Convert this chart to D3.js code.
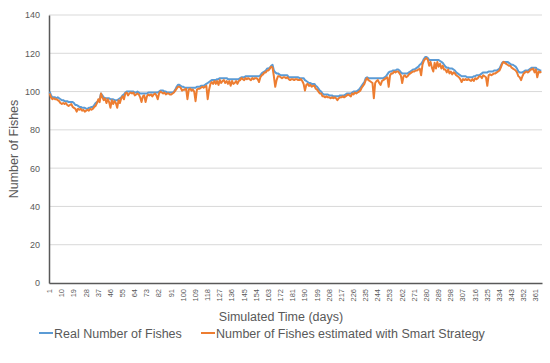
<!DOCTYPE html>
<html>
<head>
<meta charset="utf-8">
<script src="https://cdn.jsdelivr.net/npm/d3@7"></script>
<style>
  body { margin: 0; background: #fff; }
  svg text { font-family: "Liberation Sans", Arial, sans-serif; fill: #595959; }
</style>
</head>
<body>
<svg id="chart"></svg>
<script>
// real number of fishes, day 1..365
const realFishes = [
  100, 98, 97, 97, 97, 96.5, 97, 96.5, 96, 95.5,
  95.5, 95, 95, 95, 94.5, 94.5, 94.5, 94.5, 94, 93,
  93, 92.5, 92, 92, 91.5, 91.5, 91.5, 91, 91, 91.5,
  91.5, 92, 92, 93, 94, 94.5, 95, 96, 99, 98,
  97, 96.5, 96.5, 96.5, 96.5, 96, 96, 96, 95.5, 95.5,
  95.5, 96, 96.5, 97, 98, 98.5, 99.5, 100, 100, 100,
  100, 100, 100, 99.5, 99.5, 100, 99.5, 99, 99, 99,
  99, 99, 99, 99.5, 99.5, 99.5, 99.5, 99.5, 99.5, 99.5,
  99.5, 100, 100.5, 100.5, 100.5, 100, 100, 99.5, 99.5, 99.5,
  99.5, 99.5, 100, 101, 102.5, 103.5, 103.5, 103, 102.5, 102.5,
  102, 102, 102, 102, 102, 102, 102, 102, 102, 102.5,
  102.5, 102.5, 103, 103, 103, 103.5, 104, 104.5, 105, 105.5,
  106, 106, 106, 106, 106.5, 106.5, 107, 107, 107, 107,
  107, 107, 106.5, 106.5, 106.5, 106.5, 106.5, 106.5, 106.5, 106.5,
  106.5, 107, 107.5, 107.5, 107.5, 108, 108, 108, 108, 108,
  108, 108, 108, 108, 108, 108, 108.5, 109.5, 110, 110.5,
  111, 112, 112, 112.5, 113.5, 114, 111, 110, 109.5, 109.5,
  109, 108.5, 108.5, 108.5, 108.5, 108.5, 108.5, 107.5, 107.5, 107.5,
  107.5, 107.5, 107.5, 107.5, 107.5, 107, 107, 107, 107, 106,
  105.5, 105, 104.5, 104.5, 104, 104, 104, 103, 102.5, 101.5,
  100.5, 100, 99, 98.5, 98.5, 98.5, 98.5, 98, 98, 98,
  97.5, 97.5, 97.5, 97.5, 97.5, 98, 98, 98, 98, 98.5,
  99, 99, 99, 99, 99.5, 100, 100, 100, 100.5, 101,
  102, 103, 104, 105, 107, 107.5, 107, 107, 107, 107,
  107, 107, 107, 107, 107, 107, 107, 107, 107.5, 108,
  109, 110, 110.5, 110.5, 111, 111, 111, 111.5, 111.5, 111,
  110, 109.5, 109.5, 109.5, 109.5, 109.5, 110, 110.5, 111, 111.5,
  111.5, 112, 112.5, 113, 114, 114.5, 115.5, 117, 118, 118,
  117.5, 116.5, 116.5, 116.5, 116.5, 116.5, 116.5, 116.5, 116.5, 116,
  115.5, 115, 114, 113, 112.5, 112.5, 112, 112, 112, 111.5,
  111, 110, 109.5, 109, 108.5, 108, 108, 108, 108, 107.5,
  107.5, 107.5, 107.5, 107.5, 108, 108, 108.5, 108.5, 108.5, 109,
  109.5, 110, 110, 110, 110, 110.5, 110.5, 110.5, 110.5, 111,
  111, 111, 111.5, 112, 113.5, 115, 115.5, 115.5, 115.5, 115.5,
  115, 114.5, 114, 114, 113.5, 113, 112, 110.5, 110, 110,
  110, 110.5, 111, 111, 111, 111.5, 112, 112.5, 112.5, 112.5,
  112.5, 111.5, 111.5, 111, 111
];

// number of fishes estimated with smart strategy, day 1..365
const smartFishes = [
  99, 97, 96, 96.5, 96, 96, 95.5, 95, 94, 93.5,
  94, 93.5, 94, 93, 92.5, 93, 93.5, 92, 91.5, 91,
  89.5, 91, 90.5, 91, 90, 90.5, 89.5, 90, 90.5, 90,
  91, 90.5, 91, 92, 92.5, 94, 96, 94.5, 99, 97,
  95.5, 96.5, 94, 96, 94.5, 91.5, 95.5, 93.5, 95, 94,
  91.5, 95.5, 94, 96.5, 97.5, 96, 99, 99.5, 98, 99,
  99.5, 99, 99.5, 98, 98.5, 99, 98.5, 97, 94.5, 97.5,
  98, 94.5, 97.5, 98.5, 98, 98.5, 97.5, 98.5, 99, 98,
  96, 99, 100, 99.5, 99, 99.5, 98.5, 99, 99, 98.5,
  98.5, 99, 99.5, 100.5, 101.5, 102.5, 102.5, 102, 100.5, 101,
  101, 101.5, 96, 101, 101.5, 100.5, 101, 100, 95, 101,
  101.5, 101.5, 102, 102.5, 102, 102.5, 103, 96, 101, 104,
  105, 104, 105.5, 104, 105.5, 103.5, 106, 104.5, 105.5, 106,
  104.5, 105.5, 104, 105.5, 103, 105.5, 104, 104.5, 105.5, 104,
  105.5, 106, 107, 106.5, 106, 107, 106.5, 107, 106.5, 106,
  107, 106.5, 107, 107, 106.5, 105, 107.5, 108.5, 109, 110,
  110, 111, 111, 112, 113, 112.5, 108, 102.5, 106, 108,
  108, 107.5, 107, 107.5, 107.5, 107, 107.5, 106.5, 106, 106.5,
  106.5, 106, 106.5, 106.5, 106, 106, 106.5, 105.5, 104, 100.5,
  103.5, 104, 103, 103.5, 102.5, 103, 103, 101.5, 101, 100,
  99, 99, 97.5, 97.5, 97, 97.5, 97, 97, 96.5, 97,
  96.5, 97, 96.5, 95.5, 96.5, 97, 97, 97.5, 97, 97.5,
  98, 98.5, 98, 97.5, 99, 98.5, 99.5, 99, 99.5, 100,
  100.5, 102, 103, 104, 106, 107, 106, 105.5, 105, 104.5,
  96.5, 104.5, 105.5, 106, 104.5, 103.5, 105.5, 106, 106.5, 107,
  107.5, 102.5, 108.5, 109.5, 109.5, 110.5, 110, 110.5, 110.5, 109.5,
  108.5, 104.5, 108, 108.5, 107.5, 108, 109, 109.5, 110, 110.5,
  110.5, 111, 111, 111.5, 112, 108.5, 114, 116, 117, 117.5,
  116.5, 113.5, 115.5, 112.5, 110.5, 115, 112, 115.5, 113, 114.5,
  112, 113.5, 111.5, 111.5, 110, 111.5, 109.5, 110.5, 109, 110,
  109.5, 108.5, 108, 107.5, 106.5, 105, 106.5, 106, 106.5, 106,
  106.5, 106, 105.5, 106.5, 105.5, 107, 106.5, 107, 108, 108,
  107, 108.5, 108, 107.5, 103, 108.5, 109, 108.5, 109, 109.5,
  109.5, 110, 110.5, 111, 112.5, 114.5, 115.5, 115, 114.5, 114,
  113.5, 113.5, 112.5, 112, 111.5, 111, 110, 108, 107.5, 106,
  108, 109.5, 110, 110.5, 110, 110.5, 111.5, 111.5, 112, 110,
  111.5, 107.5, 110.5, 110, 110.5
];

const days = d3.range(1, realFishes.length + 1);
const yTicks = [0, 20, 40, 60, 80, 100, 120, 140];
const seriesNames = ["Real Number of Fishes", "Number of Fishes estimated with Smart Strategy"];
const seriesColors = ["#5B9BD5", "#ED7D31"];

const width = 550, height = 363;
const margin = { top: 15, right: 8, bottom: 80, left: 49 };
const plotW = width - margin.left - margin.right;
const plotH = height - margin.top - margin.bottom;

const svg = d3.select("#chart")
  .attr("width", width)
  .attr("height", height);

const chart = svg.append("g")
  .attr("transform", `translate(${margin.left},${margin.top})`);

const x = d3.scaleBand()
  .domain(days)
  .range([0, plotW]);

const y = d3.scaleLinear()
  .domain([0, 140])
  .range([plotH, 0]);

// gridlines
chart.append("g")
  .selectAll("line")
  .data(yTicks.filter(t => t > 0))
  .join("line")
    .attr("x1", 0)
    .attr("x2", plotW)
    .attr("y1", d => y(d))
    .attr("y2", d => y(d))
    .attr("stroke", "#d9d9d9")
    .attr("stroke-width", 1);

// y axis
const yAxis = chart.append("g")
  .call(d3.axisLeft(y).tickValues(yTicks).tickSize(0).tickPadding(9));
yAxis.select(".domain").attr("stroke", "#595959").attr("stroke-width", 1.5);
yAxis.selectAll("text")
  .style("font-size", "9px")
  .attr("fill", "#595959");

// x axis
const xAxis = chart.append("g")
  .attr("transform", `translate(0,${plotH})`)
  .call(d3.axisBottom(x)
    .tickValues(days.filter(d => (d - 1) % 9 === 0))
    .tickSize(0)
    .tickPadding(0));
xAxis.select(".domain").attr("stroke", "#595959").attr("stroke-width", 1.5);
xAxis.selectAll("text")
  .style("font-size", "7.5px")
  .attr("fill", "#595959")
  .attr("text-anchor", "end")
  .attr("dy", "0.32em")
  .attr("transform", "translate(0,6) rotate(-90)")
  .attr("y", 0)
  .attr("x", 0);

// lines
const line = vals => d3.line()
  .x((d, i) => x(days[i]) + x.bandwidth() / 2)
  .y(d => y(d))(vals);

[realFishes, smartFishes].forEach((vals, i) => {
  chart.append("path")
    .attr("d", line(vals))
    .attr("fill", "none")
    .attr("stroke", seriesColors[i])
    .attr("stroke-width", 2)
    .attr("stroke-linejoin", "round");
});

// axis titles
svg.append("text")
  .attr("x", 281)
  .attr("y", 321)
  .attr("text-anchor", "middle")
  .style("font-size", "12.5px")
  .text("Simulated Time (days)");

svg.append("text")
  .attr("transform", "translate(18,149) rotate(-90)")
  .attr("text-anchor", "middle")
  .style("font-size", "12.5px")
  .text("Number of Fishes");

// legend
const legendX = [39, 201];
const legend = svg.append("g");
seriesNames.forEach((name, i) => {
  legend.append("line")
    .attr("x1", legendX[i])
    .attr("x2", legendX[i] + 14)
    .attr("y1", 333)
    .attr("y2", 333)
    .attr("stroke", seriesColors[i])
    .attr("stroke-width", 2);
  legend.append("text")
    .attr("x", legendX[i] + 15)
    .attr("y", 337.5)
    .style("font-size", "12.5px")
    .text(name);
});
</script>
</body>
</html>
